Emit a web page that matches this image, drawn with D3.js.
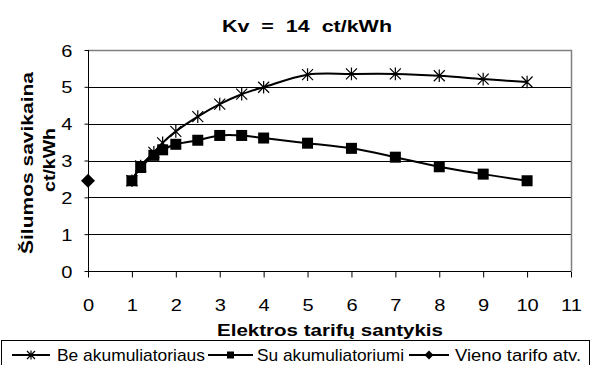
<!DOCTYPE html>
<html><head><meta charset="utf-8">
<script src="https://cdn.jsdelivr.net/npm/d3@7"></script>
<style>body{margin:0;background:#fff}svg{display:block}text{font-family:"Liberation Sans",Arial,sans-serif}</style>
</head><body>
<svg id="c" width="594" height="365"></svg>
<script>
const titleText = "Kv  =  14  ct/kWh";
const xTitle = "Elektros tarifų santykis";
const yTitle1 = "Šilumos savikaina";
const yTitle2 = "ct/kWh";
const xTicks = [0,1,2,3,4,5,6,7,8,9,10,11];
const yTicks = [0,1,2,3,4,5,6];
const seriesNames = ["Be akumuliatoriaus","Su akumuliatoriumi","Vieno tarifo atv."];
const xBe = [1,1.2,1.5,1.7,2,2.5,3,3.5,4,5,6,7,8,9,10];
const yBe = [2.45,2.85,3.22,3.48,3.79,4.19,4.53,4.8,4.99,5.33,5.35,5.35,5.3,5.21,5.13];
const xSu = [1,1.2,1.5,1.7,2,2.5,3,3.5,4,5,6,7,8,9,10];
const ySu = [2.45,2.81,3.14,3.29,3.44,3.55,3.68,3.68,3.61,3.47,3.33,3.09,2.83,2.63,2.45];
const xVieno = [0];
const yVieno = [2.45];

const svg = d3.select("#c");
const x = d3.scaleLinear().domain([0,11]).range([88,571]);
const y = d3.scaleLinear().domain([0,6]).range([271,50]);

function stretch(sel, k){ sel.each(function(){ const w=this.getComputedTextLength(); d3.select(this).attr("textLength", w*k).attr("lengthAdjust","spacingAndGlyphs"); }); }

// gridlines
svg.append("g").selectAll("line").data(yTicks.filter(v=>v>0 && v<6)).join("line")
  .attr("x1",x(0)).attr("x2",x(11)).attr("y1",d=>Math.round(y(d))+0.5).attr("y2",d=>Math.round(y(d))+0.5)
  .attr("stroke","#000").attr("stroke-width",1);
// plot border top/right
svg.append("path").attr("d",`M${x(0)},${Math.round(y(6))+0.5}H${x(11)+0.5}V${y(0)}`)
  .attr("fill","none").attr("stroke","#808080").attr("stroke-width",1.5);

// axes
const yAxis = svg.append("g").attr("transform",`translate(${x(0)+0.5},0)`)
  .call(d3.axisLeft(y).tickValues(yTicks).tickSize(4).tickFormat(d3.format("d")));
yAxis.select(".domain").attr("d",`M0,${y(6)}V${y(0)}`).attr("stroke","#000");
yAxis.selectAll(".tick line").attr("stroke","#000");
yAxis.selectAll(".tick text").attr("x",-16).attr("dy","0.36em").attr("font-size",17).attr("font-family","Liberation Sans, Arial, sans-serif").attr("fill","#000").call(stretch,1.18);

const xAxis = svg.append("g").attr("transform",`translate(0,${Math.round(y(0))+0.5})`)
  .call(d3.axisBottom(x).tickValues(xTicks).tickSize(6).tickFormat(d3.format("d")));
xAxis.select(".domain").attr("d",`M${x(0)},0H${x(11)}`).attr("stroke","#000");
xAxis.selectAll(".tick line").attr("stroke","#000");
xAxis.selectAll(".tick text").attr("y",39.5).attr("dy",0).attr("font-size",17).attr("font-family","Liberation Sans, Arial, sans-serif").attr("fill","#000").call(stretch,1.18);

// titles
svg.append("text").attr("x",307).attr("y",32).attr("text-anchor","middle").attr("font-weight","bold")
  .attr("font-size",17).attr("xml:space","preserve").style("white-space","pre").text(titleText)
  .attr("textLength",170).attr("lengthAdjust","spacingAndGlyphs");
svg.append("text").attr("x",330).attr("y",336).attr("text-anchor","middle").attr("font-weight","bold")
  .attr("font-size",16.5).text(xTitle).attr("textLength",226).attr("lengthAdjust","spacingAndGlyphs");
svg.append("text").attr("transform","translate(33,163) rotate(-90)").attr("text-anchor","middle").attr("font-weight","bold")
  .attr("font-size",16.5).text(yTitle1).attr("textLength",182).attr("lengthAdjust","spacingAndGlyphs");
svg.append("text").attr("transform","translate(55,160) rotate(-90)").attr("text-anchor","middle").attr("font-weight","bold")
  .attr("font-size",16.5).text(yTitle2).attr("textLength",64).attr("lengthAdjust","spacingAndGlyphs");

// lines
const line = d3.line().x(d=>x(d[0])).y(d=>y(d[1])).curve(d3.curveCatmullRom.alpha(0.5));
const beData = xBe.map((v,i)=>[v,yBe[i]]);
const suData = xSu.map((v,i)=>[v,ySu[i]]);
const viData = xVieno.map((v,i)=>[v,yVieno[i]]);
svg.append("path").datum(beData).attr("d",line).attr("fill","none").attr("stroke","#000").attr("stroke-width",2);
svg.append("path").datum(suData).attr("d",line).attr("fill","none").attr("stroke","#000").attr("stroke-width",2);

function star(s){ return `M${-s},${-s}L${s},${s}M${-s},${s}L${s},${-s}M0,${-s*1.15}V${s*1.15}`; }
function drawStar(sel, s){ sel.append("path").attr("d",star(s)).attr("stroke","#000").attr("stroke-width",1.2).attr("fill","none"); }
function drawSquare(sel, s){ sel.append("rect").attr("x",-s).attr("y",-s).attr("width",2*s).attr("height",2*s).attr("fill","#000"); }
function drawDiamond(sel, s){ sel.append("path").attr("d",`M0,${-s}L${s},0L0,${s}L${-s},0Z`).attr("fill","#000"); }

svg.append("g").selectAll("g").data(beData).join("g").attr("transform",d=>`translate(${x(d[0])},${y(d[1])})`).call(drawStar,5.5);
svg.append("g").selectAll("g").data(suData).join("g").attr("transform",d=>`translate(${x(d[0])},${y(d[1])})`).call(drawSquare,5.5);
svg.append("g").selectAll("g").data(viData).join("g").attr("transform",d=>`translate(${x(d[0])},${y(d[1])})`).call(drawDiamond,7);

// legend
svg.append("rect").attr("x",1.5).attr("y",340.5).attr("width",588).attr("height",30).attr("fill","none").attr("stroke","#000");
const leg = [
  {name:seriesNames[0], x1:12, x2:50, tx:57, tw:148, m:drawStar, s:4},
  {name:seriesNames[1], x1:208, x2:253, tx:257, tw:147, m:drawSquare, s:3.5},
  {name:seriesNames[2], x1:409, x2:449, tx:455, tw:126, m:drawDiamond, s:4.5}
];
const lg = svg.append("g").selectAll("g").data(leg).join("g");
lg.append("line").attr("x1",d=>d.x1).attr("x2",d=>d.x2).attr("y1",355).attr("y2",355).attr("stroke","#000").attr("stroke-width",2);
lg.each(function(d){ const g=d3.select(this).append("g").attr("transform",`translate(${(d.x1+d.x2)/2},355)`); d.m(g,d.s); });
lg.append("text").attr("x",d=>d.tx).attr("y",361).attr("font-size",17).text(d=>d.name)
  .attr("textLength",d=>d.tw).attr("lengthAdjust","spacingAndGlyphs");
</script>
</body></html>
